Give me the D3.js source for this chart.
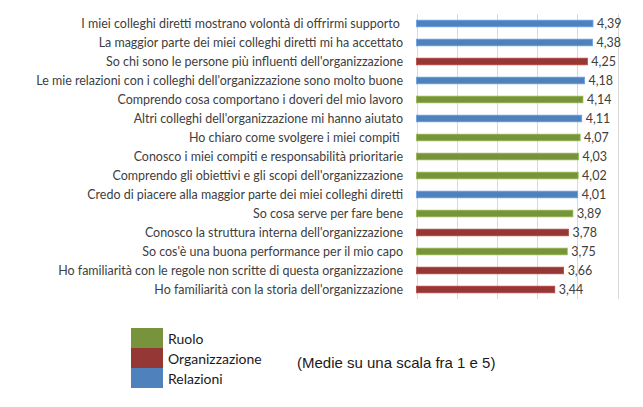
<!DOCTYPE html>
<html>
<head>
<meta charset="utf-8">
<script src="https://cdn.jsdelivr.net/npm/d3@7"></script>
<style>
  html, body { margin: 0; padding: 0; background: #ffffff; }
  svg { display: block; }
  text { white-space: pre; }
</style>
</head>
<body>
<svg id="chart" width="643" height="407"></svg>
<script>
const categories = [
  "I miei colleghi diretti mostrano volontà di offrirmi supporto ",
  "La maggior parte dei miei colleghi diretti mi ha accettato",
  "So chi sono le persone più influenti dell'organizzazione",
  "Le mie relazioni con i colleghi dell'organizzazione sono molto buone",
  "Comprendo cosa comportano i doveri del mio lavoro",
  "Altri colleghi dell'organizzazione mi hanno aiutato",
  "Ho chiaro come svolgere i miei compiti ",
  "Conosco i miei compiti e responsabilità prioritarie",
  "Comprendo gli obiettivi e gli scopi dell'organizzazione",
  "Credo di piacere alla maggior parte dei miei colleghi diretti",
  "So cosa serve per fare bene",
  "Conosco la struttura interna dell'organizzazione",
  "So cos'è una buona performance per il mio capo",
  "Ho familiarità con le regole non scritte di questa organizzazione",
  "Ho familiarità con la storia dell'organizzazione"
];
const values = [4.39, 4.38, 4.25, 4.18, 4.14, 4.11, 4.07, 4.03, 4.02, 4.01, 3.89, 3.78, 3.75, 3.66, 3.44];
const groups = ["Relazioni", "Relazioni", "Organizzazione", "Relazioni", "Ruolo", "Relazioni", "Ruolo", "Ruolo", "Ruolo", "Relazioni", "Ruolo", "Organizzazione", "Ruolo", "Organizzazione", "Organizzazione"];
const legendNames = ["Ruolo", "Organizzazione", "Relazioni"];
const legendColors = ["#77933C", "#953735", "#4F81BD"];
const gridTicks = [0, 1, 2, 3, 4, 5];
const noteText = "(Medie su una scala fra 1 e 5)";

const data = categories.map((c, i) => ({ cat: c, value: values[i], group: groups[i] }));
const color = d3.scaleOrdinal().domain(legendNames).range(legendColors);
const fmt = v => d3.format(".2f")(v).replace(".", ",");

const svg = d3.select("#chart");
const x = d3.scaleLinear().domain([0, 5]).range([416.5, 617.5]);
const y = d3.scaleBand().domain(categories).range([14, 299]).paddingInner(0.65).paddingOuter(0.325);

// gridlines
svg.append("g").selectAll("line").data(gridTicks).join("line")
  .attr("x1", d => Math.round(x(d)) + 0.5).attr("x2", d => Math.round(x(d)) + 0.5)
  .attr("y1", 14).attr("y2", 299)
  .attr("stroke", "#d9d9d9").attr("stroke-width", 1);

// font sizing via measurement
const labelFont = "Lato, 'Open Sans', sans-serif";
const probe = svg.append("text").attr("font-family", labelFont).attr("font-size", 13)
  .text("Le mie relazioni con i colleghi dell'organizzazione sono molto buone");
const measured = probe.node().getComputedTextLength();
probe.remove();
const labelSize = 13 * 367 / measured;

// bars
svg.append("g").selectAll("rect").data(data).join("rect")
  .attr("x", x(0))
  .attr("y", d => y(d.cat))
  .attr("width", d => x(d.value) - x(0))
  .attr("height", y.bandwidth())
  .attr("fill", d => color(d.group))
  .attr("stroke", d => d3.color(color(d.group)).brighter(0.6))
  .attr("stroke-width", 0.8);

// category labels
svg.append("g").selectAll("text").data(data).join("text")
  .attr("x", 403)
  .attr("y", d => y(d.cat) + y.bandwidth() / 2)
  .attr("dy", "0.35em")
  .attr("text-anchor", "end")
  .attr("font-family", labelFont)
  .attr("font-size", labelSize)
  .attr("fill", "#404040")
  .text(d => d.cat);

// value labels
svg.append("g").selectAll("text").data(data).join("text")
  .attr("x", d => x(d.value) + 4)
  .attr("y", d => y(d.cat) + y.bandwidth() / 2)
  .attr("dy", "0.35em")
  .attr("font-family", labelFont)
  .attr("font-size", labelSize)
  .attr("fill", "#404040")
  .text(d => fmt(d.value));

// legend
const lg = svg.append("g");
legendNames.forEach((n, i) => {
  lg.append("rect").attr("x", 131).attr("y", 328 + i * 20).attr("width", 32).attr("height", 20)
    .attr("fill", legendColors[i]);
  lg.append("text").attr("x", 168).attr("y", 339 + i * 20).attr("dy", "0.35em")
    .attr("font-family", labelFont).attr("font-size", labelSize * 1.12)
    .attr("fill", "#1a1a1a").text(n);
});

svg.append("text").attr("x", 297).attr("y", 363).attr("dy", "0.35em")
  .attr("font-family", "'Liberation Sans', Arial, sans-serif").attr("font-size", 15)
  .attr("fill", "#1a1a1a").text(noteText);
</script>
</body>
</html>
